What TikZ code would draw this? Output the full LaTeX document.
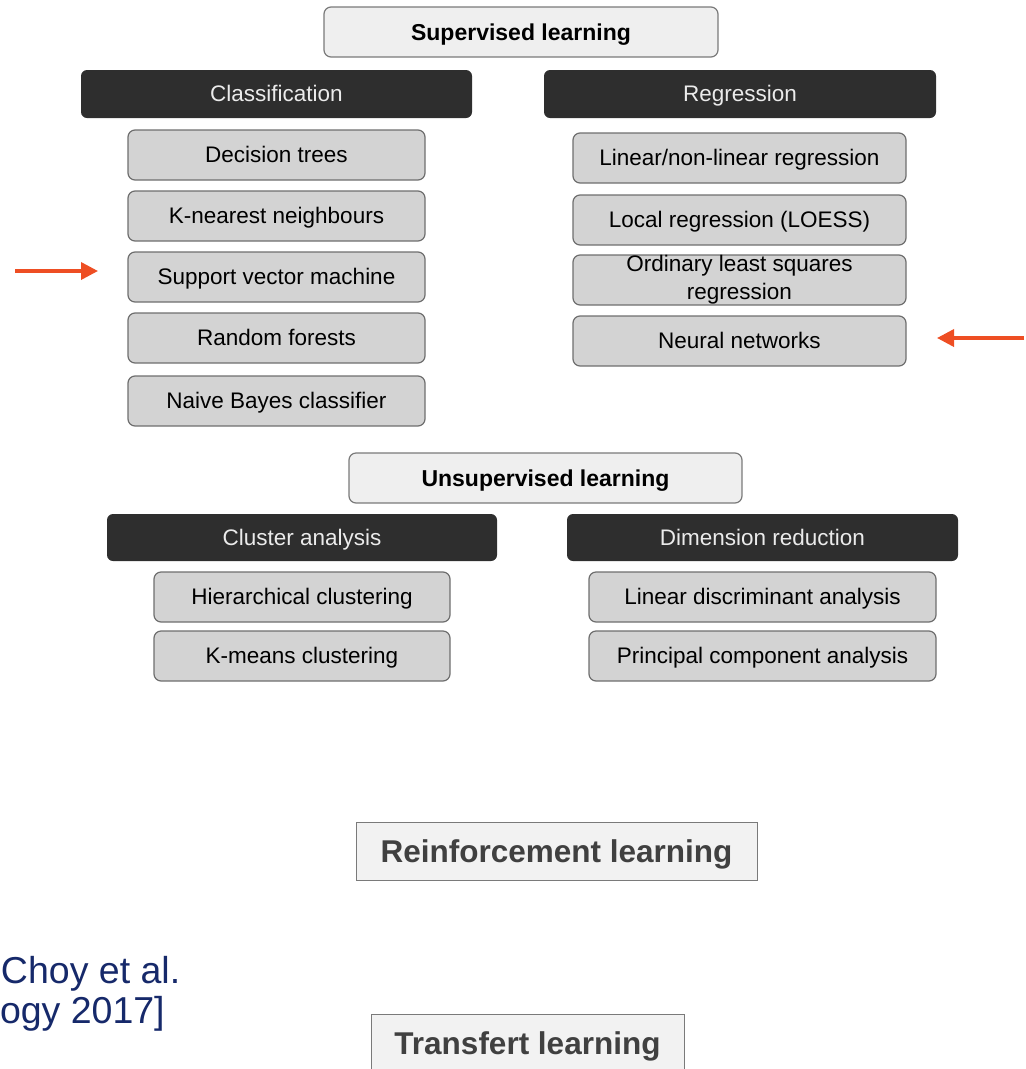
\documentclass[tikz,border=0pt]{standalone}
\usepackage{fontspec}
\setmainfont{Liberation Sans}
\usepackage{tikz}
\usetikzlibrary{arrows.meta}
\usetikzlibrary{positioning}
\definecolor{headfill}{HTML}{EFEFEF}
\definecolor{headline}{HTML}{7A7A7A}
\definecolor{barfill}{HTML}{2E2E2E}
\definecolor{itemfill}{HTML}{D3D3D3}
\definecolor{itemline}{HTML}{6E6E6E}
\definecolor{plainfill}{HTML}{F2F2F2}
\definecolor{plaintext}{HTML}{404040}
\definecolor{citeblue}{HTML}{16296A}
\definecolor{pointred}{HTML}{EE4E23}
\tikzset{
    every node/.style={outer sep=0pt},
    topbox/.style={draw=headline, fill=headfill, line width=1.2pt, rounded corners=7pt,
        inner sep=0pt, minimum height=50pt, text height=18.4pt, text depth=2.3pt,
        font=\fontsize{23}{26}\selectfont\bfseries},
    catbar/.style={fill=barfill, rounded corners=6pt, text=white!92!black,
        inner sep=0pt, minimum height=48pt, text height=18pt, text depth=2.2pt,
        font=\fontsize{22.5}{26}\selectfont},
    itembox/.style={draw=itemline, fill=itemfill, line width=1.2pt, rounded corners=7pt,
        inner sep=0pt, minimum height=50pt, text height=18pt, text depth=2.2pt,
        align=center, font=\fontsize{22.5}{27}\selectfont},
    plainbox/.style={draw=headline, fill=plainfill, line width=1pt, inner sep=0pt,
        text height=25.6pt, text depth=3.2pt,
        text=plaintext, font=\fontsize{31.5}{35}\selectfont\bfseries},
    cite/.style={inner sep=0pt, text=citeblue, font=\fontsize{37.5}{40}\selectfont},
    pointer/.style={draw=pointred, line width=3.5pt, -{Triangle[length=17pt,width=17pt]}},
}
\begin{document}
\begin{tikzpicture}[x=1pt, y=-1pt, node distance=11pt]
	\useasboundingbox (0,0) rectangle (1026,1069);
	% supervised
	\node[topbox, minimum width=394pt] (sup) at (521,32) {Supervised learning};
	\node[catbar, minimum width=391pt] (cls) at (276.5,94) {Classification};
	\node[catbar, minimum width=392pt] (reg) at (740,94) {Regression};
	\node[itembox, minimum width=297pt] (dt) at (276.5,155) {Decision trees};
	\node[itembox, minimum width=297pt, below=of dt] (knn) {K-nearest neighbours};
	\node[itembox, minimum width=297pt, below=of knn] (svm) {Support vector machine};
	\node[itembox, minimum width=297pt, below=of svm] (rf) {Random forests};
	\node[itembox, minimum width=297pt, below=13pt of rf] (nb) {Naive Bayes classifier};
	\node[itembox, minimum width=333pt] (lin) at (739.5,158) {Linear/non-linear regression};
	\node[itembox, minimum width=333pt, below=12pt of lin] (loess) {Local regression (LOESS)};
	\node[itembox, minimum width=333pt, below=10pt of loess, text height=, text depth=]
		(ols) {Ordinary least squares\\[1pt]regression};
	\node[itembox, minimum width=333pt, below=of ols] (nn) {Neural networks};
	% pointers
	\coordinate (svmtail) at (15,271);
	\coordinate (nntail) at (1024,338);
	\draw[pointer, shorten >=30pt] (svmtail) -- (svmtail -| svm.west);
	\draw[pointer, shorten >=31pt] (nntail) -- (nntail -| nn.east);
	% unsupervised
	\node[topbox, minimum width=393pt] (unsup) at (545.5,478) {Unsupervised learning};
	\node[catbar, minimum width=390pt, minimum height=47pt] (clu) at (302,537.5) {Cluster analysis};
	\node[catbar, minimum width=391pt, minimum height=47pt] (dim) at (762.5,537.5) {Dimension reduction};
	\node[itembox, minimum width=296pt] (hc) at (302,597) {Hierarchical clustering};
	\node[itembox, minimum width=296pt, below=9pt of hc] (km) {K-means clustering};
	\node[itembox, minimum width=347pt] (lda) at (762.5,597) {Linear discriminant analysis};
	\node[itembox, minimum width=347pt, below=9pt of lda] (pca) {Principal component analysis};
	% others
	\node[plainbox, minimum width=401pt, minimum height=58pt] (rl) at (556.5,851) {Reinforcement learning};
	\node[plainbox, minimum width=313pt, minimum height=59pt] (tl) at (527.5,1043.5) {Transfert learning};
	\node[cite, anchor=base west] (choy) at (1,983) {Choy et al.};
	\node[cite, anchor=base west] (year) at (0,1023) {ogy 2017]};
\end{tikzpicture}
\end{document}
